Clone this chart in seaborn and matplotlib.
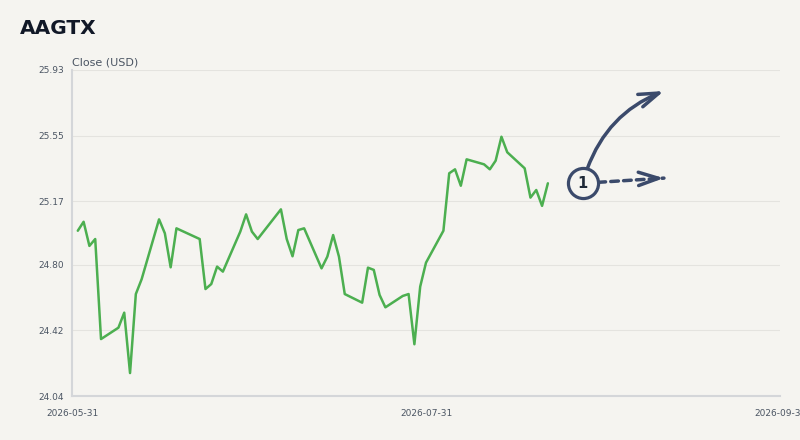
import numpy as np
import pandas as pd
import matplotlib
matplotlib.use("Agg")
import matplotlib.pyplot as plt
import matplotlib.dates as mdates
import seaborn as sns

# ---- data ----
ticker = "AAGTX"
dates = [
    "2026-06-01", "2026-06-02", "2026-06-03", "2026-06-04", "2026-06-05",
    "2026-06-08", "2026-06-09", "2026-06-10", "2026-06-11", "2026-06-12",
    "2026-06-15", "2026-06-16", "2026-06-17", "2026-06-18",
    "2026-06-22", "2026-06-23", "2026-06-24", "2026-06-25", "2026-06-26",
    "2026-06-29", "2026-06-30", "2026-07-01", "2026-07-02",
    "2026-07-06", "2026-07-07", "2026-07-08", "2026-07-09", "2026-07-10",
    "2026-07-13", "2026-07-14", "2026-07-15", "2026-07-16", "2026-07-17",
    "2026-07-20", "2026-07-21", "2026-07-22", "2026-07-23", "2026-07-24",
    "2026-07-27", "2026-07-28", "2026-07-29", "2026-07-30", "2026-07-31",
    "2026-08-03", "2026-08-04", "2026-08-05", "2026-08-06", "2026-08-07",
    "2026-08-10", "2026-08-11", "2026-08-12", "2026-08-13", "2026-08-14",
    "2026-08-17", "2026-08-18", "2026-08-19", "2026-08-20", "2026-08-21",
]
close = [
    24.998, 25.050, 24.910, 24.950, 24.370,
    24.436, 24.523, 24.173, 24.631, 24.717,
    25.064, 24.983, 24.786, 25.012,
    24.950, 24.660, 24.689, 24.790, 24.761,
    24.993, 25.093, 24.993, 24.950,
    25.122, 24.950, 24.850, 25.002, 25.012,
    24.780, 24.848, 24.973, 24.848, 24.631,
    24.581, 24.784, 24.771, 24.626, 24.554,
    24.620, 24.631, 24.340, 24.674, 24.813,
    24.998, 25.331, 25.354, 25.259, 25.412,
    25.383, 25.354, 25.404, 25.543, 25.453,
    25.360, 25.190, 25.234, 25.142, 25.273,
]
y_ticks = [24.04, 24.42, 24.80, 25.17, 25.55, 25.93]
x_ticks = ["2026-05-31", "2026-07-31", "2026-09-30"]
badge_label = "1"

df = pd.DataFrame({"Date": pd.to_datetime(dates), "Close": close})

# ---- style ----
bg = "#f5f4f0"
ink = "#3b4a6b"
grey_txt = "#4b5563"
spine_c = "#d4d6d9"

sns.set_theme(style="white")
plt.rcParams["font.family"] = ["DejaVu Sans"]

fig = plt.figure(figsize=(8, 4.4), dpi=100, facecolor=bg)
ax = fig.add_axes([0.09, 0.1, 0.885, 0.741], facecolor=bg)

sns.lineplot(data=df, x="Date", y="Close", ax=ax, color="#4caf50", linewidth=1.8)

xt = pd.to_datetime(x_ticks)
ax.set_xlim(xt[0], xt[-1])
ax.set_ylim(y_ticks[0], y_ticks[-1])
ax.set_xticks(xt)
ax.set_xticklabels(x_ticks)
ax.set_yticks(y_ticks)
ax.set_yticklabels([f"{v:.2f}" for v in y_ticks])

ax.tick_params(axis="x", labelsize=6.5, colors=grey_txt, length=4, width=1.2,
               color=spine_c, pad=5)
ax.tick_params(axis="y", labelsize=6.5, colors=grey_txt, length=0, pad=6)
ax.grid(axis="y", color="#e4e3df", linewidth=0.8)
ax.grid(axis="x", visible=False)
for s in ["top", "right"]:
    ax.spines[s].set_visible(False)
for s in ["left", "bottom"]:
    ax.spines[s].set_color(spine_c)
    ax.spines[s].set_linewidth(1.5)
ax.set_xlabel("")
ax.set_ylabel("")

fig.text(0.025, 0.935, ticker, fontsize=14.5, fontweight="bold", color="#111827",
         ha="left", va="center")
fig.text(0.09, 0.859, "Close (USD)", fontsize=8, color=grey_txt, ha="left", va="center")

# ---- annotation badge & arrows ----
last_d = df["Date"].iloc[-1]
last_v = df["Close"].iloc[-1]
cx = last_d + pd.Timedelta(days=6)
cy = last_v
ax.scatter([cx], [cy], s=470, facecolor=bg, edgecolor=ink, linewidth=2.3, zorder=5,
           clip_on=False)
ax.text(cx, cy, badge_label, ha="center", va="center", fontsize=10.5,
        fontweight="bold", color="#1f2937", zorder=6)

tip = cx + pd.Timedelta(days=14)
head = "->,head_length=1.2,head_width=0.4"
# dashed shaft
ax.annotate("", xy=(tip, cy + 0.03), xytext=(cx, cy),
            textcoords="data", xycoords="data",
            arrowprops=dict(arrowstyle="-", color=ink, lw=2.5,
                            linestyle=(0, (2.2, 1.5)),
                            shrinkA=11, shrinkB=0))
# solid head for dashed arrow
ax.annotate("", xy=(tip, cy + 0.03),
            xytext=(tip - pd.Timedelta(days=2), cy + 0.028),
            textcoords="data", xycoords="data",
            arrowprops=dict(arrowstyle=head, color=ink, lw=2.5,
                            shrinkA=0, shrinkB=0))
# curved arrow
ax.annotate("", xy=(tip, cy + 0.535), xytext=(cx, cy),
            textcoords="data", xycoords="data",
            arrowprops=dict(arrowstyle=head,
                            color=ink, lw=2.5,
                            connectionstyle="arc3,rad=-0.25",
                            shrinkA=11, shrinkB=0))

fig.savefig("out.png", dpi=100, facecolor=bg)
